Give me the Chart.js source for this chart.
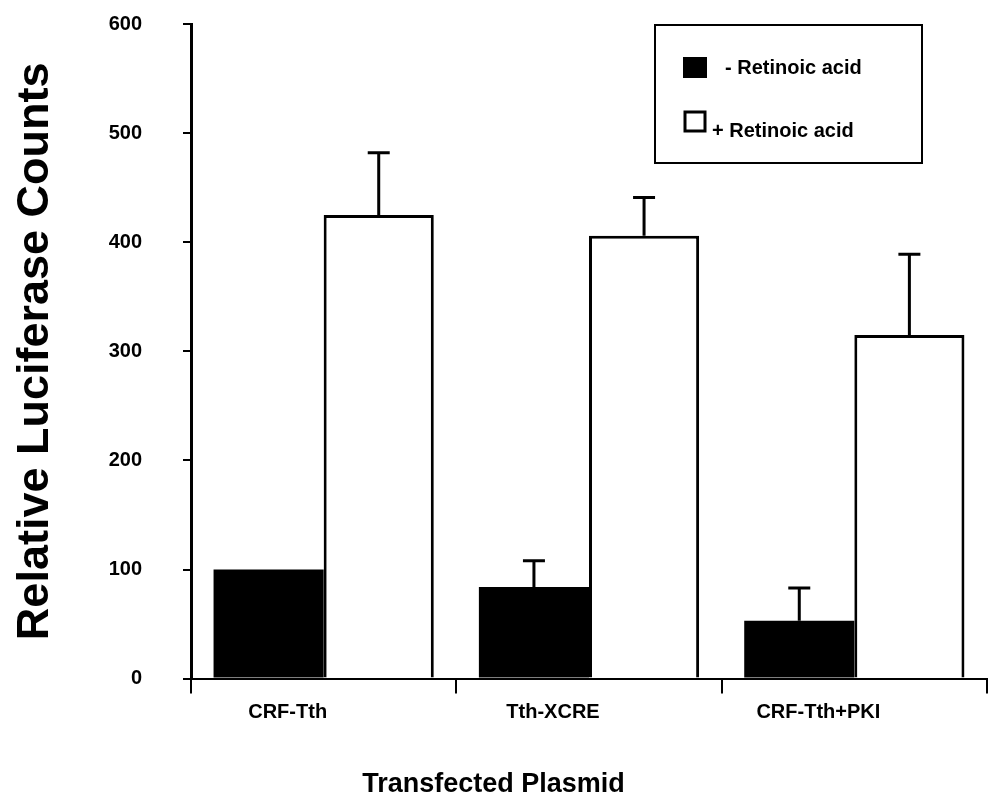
<!DOCTYPE html>
<html>
<head>
<meta charset="utf-8">
<script src="https://cdn.jsdelivr.net/npm/chart.js@4"></script>
<style>
  html, body { margin: 0; padding: 0; background: #fff; }
  canvas { display: block; }
</style>
</head>
<body>
<canvas id="c" width="988" height="808"></canvas>
<script>
const categories = ['CRF-Tth', 'Tth-XCRE', 'CRF-Tth+PKI'];
const seriesNames = ['- Retinoic acid', '+ Retinoic acid'];
const minusRA = [100, 84, 53];
const minusRAErr = [0, 24, 30];
const plusRA = [425, 406, 315];
const plusRAErr = [57, 35, 74];
const yTicks = [0, 100, 200, 300, 400, 500, 600];
const yTitle = 'Relative Luciferase Counts';
const xTitle = 'Transfected Plasmid';

const FONT = '"Liberation Sans", Arial, sans-serif';
Chart.defaults.color = '#000';
Chart.defaults.font.family = FONT;

const errors = [minusRAErr, plusRAErr];

const errorBars = {
  id: 'errorBars',
  afterDatasetsDraw(chart) {
    const ctx = chart.ctx;
    const y = chart.scales.y;
    ctx.save();
    ctx.strokeStyle = '#000';
    ctx.lineWidth = 3;
    chart.data.datasets.forEach((ds, i) => {
      const meta = chart.getDatasetMeta(i);
      meta.data.forEach((bar, j) => {
        const e = errors[i][j];
        if (!e) return;
        const top = y.getPixelForValue(ds.data[j] + e);
        ctx.beginPath();
        ctx.moveTo(bar.x, bar.y);
        ctx.lineTo(bar.x, top);
        ctx.moveTo(bar.x - 11, top);
        ctx.lineTo(bar.x + 11, top);
        ctx.stroke();
      });
    });
    ctx.restore();
  }
};

const boxLegend = {
  id: 'boxLegend',
  afterDraw(chart) {
    const ctx = chart.ctx;
    ctx.save();
    ctx.strokeStyle = '#000';
    ctx.lineWidth = 2;
    ctx.strokeRect(655, 25, 267, 138);
    const rows = [{sq: 57, txt: 68, tx: 725}, {sq: 111, txt: 131, tx: 712}];
    chart.data.datasets.forEach((ds, i) => {
      const r = rows[i];
      if (ds.backgroundColor === '#000') {
        ctx.fillStyle = '#000';
        ctx.fillRect(683, r.sq, 24, 21);
      } else {
        ctx.fillStyle = '#fff';
        ctx.fillRect(684, r.sq, 22, 20);
        ctx.lineWidth = 3;
        ctx.strokeRect(685, r.sq + 1, 20, 19);
      }
      ctx.fillStyle = '#000';
      ctx.font = 'bold 20px ' + FONT;
      ctx.textBaseline = 'middle';
      ctx.textAlign = 'left';
      ctx.fillText(ds.label, r.tx, r.txt);
    });
    ctx.restore();
  }
};

new Chart(document.getElementById('c'), {
  type: 'bar',
  data: {
    labels: categories,
    datasets: [
      {
        label: seriesNames[0],
        data: minusRA,
        backgroundColor: '#000',
        borderWidth: 0,
        categoryPercentage: 0.83,
        barPercentage: 1.0
      },
      {
        label: seriesNames[1],
        data: plusRA,
        backgroundColor: '#fff',
        borderColor: '#000',
        borderWidth: 3,
        categoryPercentage: 0.83,
        barPercentage: 1.0
      }
    ]
  },
  options: {
    responsive: false,
    animation: false,
    layout: { padding: { top: 24, right: 1, bottom: 0, left: 0 } },
    plugins: {
      legend: { display: false },
      tooltip: { enabled: false },
      title: {
        display: true,
        text: xTitle,
        position: 'bottom',
        color: '#000',
        font: { family: FONT, size: 27, weight: 'bold' },
        padding: { top: 10, bottom: 7 }
      }
    },
    scales: {
      x: {
        afterFit(scale) { scale.height = 80; },
        border: { display: true, color: '#000', width: 2 },
        grid: {
          display: true,
          drawOnChartArea: false,
          drawTicks: true,
          tickLength: 15,
          color: '#000',
          lineWidth: 2,
          offset: true
        },
        ticks: {
          color: '#000',
          font: { family: FONT, size: 20, weight: 'bold' },
          padding: 7,
          labelOffset: -36,
          maxRotation: 0
        }
      },
      y: {
        min: 0,
        max: 600,
        afterFit(scale) {
          scale.width = 191;
          scale.paddingTop = 12;
          scale.paddingBottom = 12;
        },
        afterBuildTicks(scale) { scale.ticks = yTicks.map(v => ({ value: v })); },
        border: { display: true, color: '#000', width: 3 },
        grid: {
          display: true,
          drawOnChartArea: false,
          drawTicks: true,
          tickLength: 8,
          color: '#000',
          lineWidth: 2
        },
        ticks: {
          color: '#000',
          font: { family: FONT, size: 20, weight: 'bold' },
          padding: 41
        },
        title: {
          display: true,
          text: yTitle,
          color: '#000',
          font: { family: FONT, size: 45, weight: 'bold' },
          padding: { top: 9, bottom: 0 }
        }
      }
    }
  },
  plugins: [errorBars, boxLegend]
});
</script>
</body>
</html>
